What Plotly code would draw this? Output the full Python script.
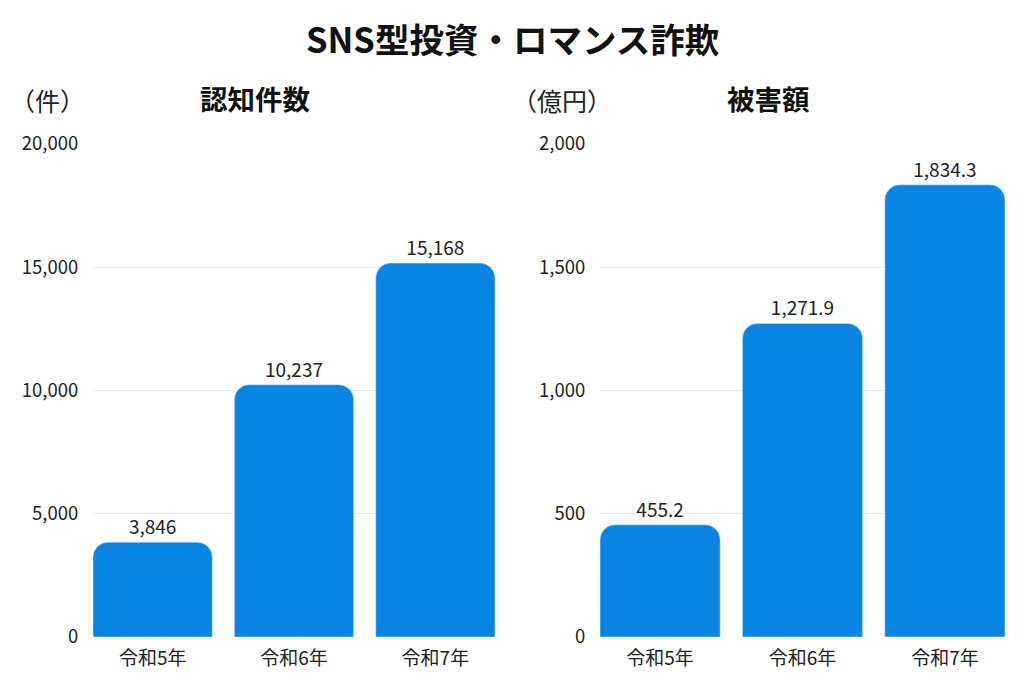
import plotly.graph_objects as go

years = ['令和5年', '令和6年', '令和7年']
cases = [3846, 10237, 15168]
damage = [455.2, 1271.9, 1834.3]

blue = '#0a84e2'
font_jp = 'Noto Sans CJK JP'

# the page puts the figure 8px in from the top-left corner
OFF = 8
W, H = 1024 - OFF, 683 - OFF


def px(x):
    return (x - OFF) / W


def py(y):
    return 1 - (y - OFF) / H


fig = go.Figure()

fig.add_trace(go.Bar(x=years, y=cases, marker_color=blue,
                     texttemplate='%{y:,}', textposition='outside',
                     textfont=dict(size=19, color='#222'),
                     cliponaxis=False, xaxis='x', yaxis='y'))
fig.add_trace(go.Bar(x=years, y=damage, marker_color=blue,
                     texttemplate='%{y:,.1f}', textposition='outside',
                     textfont=dict(size=19, color='#222'),
                     cliponaxis=False, xaxis='x2', yaxis='y2'))

ydom = [py(637), py(144)]

xcommon = dict(type='category', range=[-0.422, 2.422], showgrid=False,
               ticks='outside', ticklen=4, tickcolor='rgba(0,0,0,0)',
               tickfont=dict(size=19, color='#222'), showline=False,
               automargin=False)
ycommon = dict(showgrid=True, gridcolor='#ebebeb', gridwidth=1, zeroline=False,
               tickformat=',', ticks='outside', ticklen=10,
               tickcolor='rgba(0,0,0,0)', tickfont=dict(size=18.5, color='#222'),
               domain=ydom, automargin=False)

fig.update_layout(
    width=W, height=H,
    margin=dict(l=0, r=0, t=0, b=0, autoexpand=False),
    paper_bgcolor='white', plot_bgcolor='white',
    font=dict(family=font_jp, color='#222'),
    showlegend=False,
    bargap=0.156,
    barcornerradius=15,
    xaxis=dict(domain=[px(93), px(495)], anchor='y', **xcommon),
    xaxis2=dict(domain=[px(600), px(1005)], anchor='y2', **xcommon),
    yaxis=dict(range=[0, 20000], dtick=5000, anchor='x', **ycommon),
    yaxis2=dict(range=[0, 2000], dtick=500, anchor='x2', **ycommon),
)


def label(text, x, y, size, color):
    fig.add_annotation(text=text, x=px(x), y=py(y), xref='paper', yref='paper',
                       showarrow=False, xanchor='center', yanchor='middle',
                       font=dict(size=size, color=color))


label('<b>SNS型投資・ロマンス詐欺</b>', 512, 38, 34.5, '#111')
label('<b>認知件数</b>', 255, 98, 27.5, '#111')
label('<b>被害額</b>', 768, 98, 27.5, '#111')
label('（件）', 47, 100, 25, '#222')
label('（億円）', 562, 100, 25, '#222')

fig.write_html('out.html')
